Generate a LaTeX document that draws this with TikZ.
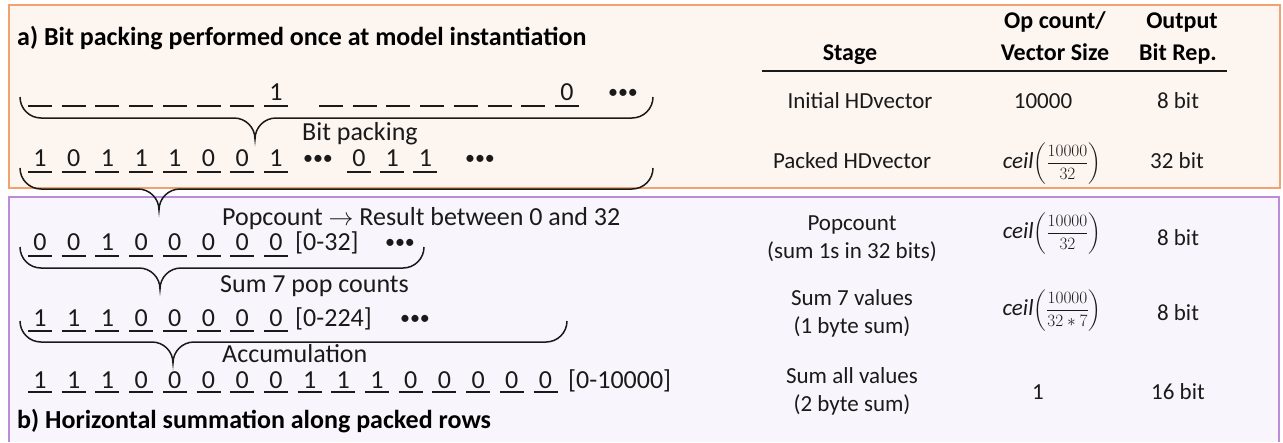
\documentclass[tikz,border=0pt]{standalone}
\usepackage{amsmath}
\usepackage{fontspec}
\setmainfont{Carlito}

\definecolor{packedge}{HTML}{F3A16E}
\definecolor{packfill}{HTML}{FDF5F0}
\definecolor{sumedge}{HTML}{BC8CDA}
\definecolor{sumfill}{HTML}{F8F6FC}
\definecolor{ink}{HTML}{1A1A1A}

\newcommand\bitfont{\fontsize{26}{30}\selectfont}
\newcommand\dotfont{\fontsize{20}{24}\selectfont}
\newcommand\tabfont{\fontsize{23}{27}\selectfont}
\newcommand\headfont{\fontsize{24}{28}\selectfont}
\newcommand\fracfont{\fontsize{17.28}{20}\selectfont}

% brace opening upwards: name of tip, left x, right x, tip x, level y
\newcommand\bitbrace[5]{%
  \draw[bracepath] (#2,#5-21) .. controls (#2,#5-9.4) and (#2+9.4,#5) .. (#2+21,#5)
    -- (#4-21,#5) .. controls (#4-9.4,#5) and (#4,#5+9.4) .. (#4,#5+21) coordinate (#1)
    .. controls (#4,#5+9.4) and (#4+9.4,#5) .. (#4+21,#5)
    -- (#3-21,#5) .. controls (#3-9.4,#5) and (#3,#5-9.4) .. (#3,#5-21);}

% one underlined bit slot: name, left x, underline y, digit, gap above the line
\newcommand\bitcell[5]{%
  \draw[bitline] (#2,#3) -- (#2+24,#3);
  \node[bitdigit] (#1) at (#2+12,#3-#5) {#4};}

\tikzset{
  bracepath/.style={draw=ink, line width=1.5pt},
  bitline/.style={draw=ink, line width=1.2pt},
  bitdigit/.style={anchor=base, inner sep=0pt, text=ink, font=\bitfont},
  bitdots/.style={anchor=base, inner sep=0pt, text=ink, font=\dotfont},
  rowlabel/.style={anchor=base west, inner sep=0pt, text=ink, font=\bitfont},
  paneltitle/.style={anchor=base west, inner sep=0pt, text=black, font=\bitfont\bfseries},
  tabcell/.style={anchor=base, inner sep=0pt, text=ink, font=\tabfont},
  tabhead/.style={anchor=base, inner sep=0pt, text=black, font=\headfont\bfseries},
}

\begin{document}
\begin{tikzpicture}[x=1pt, y=-1pt]
\useasboundingbox (0,0) rectangle (1283,442);

% panels
\fill[packfill] (9,5) rectangle (1280,188);
\draw[packedge, line width=2.6pt] (9,5) rectangle (1280,188);
\fill[sumfill] (9,197) rectangle (1279,442);
\draw[sumedge, line width=2.6pt] (9,442) -- (9,197) -- (1279,197) -- (1279,442);

% panel titles
\node[paneltitle] (ta) at (17,45) {a) Bit packing performed once at model instantiation};
\node[paneltitle] (tb) at (17,428) {b) Horizontal summation along packed rows};

% row 1: initial vector (one bit per byte)
\foreach \k in {0,...,6} { \bitcell{ia\k}{28+33.7*\k}{106}{}{6} }
\bitcell{ia7}{28+33.7*7}{106}{1}{6}
\foreach \k in {0,...,6} { \bitcell{ib\k}{319+33.7*\k}{106}{}{6} }
\bitcell{ib7}{319+33.7*7}{106}{0}{6}
\node[bitdots] (idots) at (623,98) {•••};
\bitbrace{tipA}{20}{653}{255}{118}
\node[rowlabel] (lpack) at (302,140) {Bit packing};

% row 2: packed vector
\foreach \d [count=\k from 0] in {1,0,1,1,1,0,0,1} { \bitcell{pa\k}{28+33.7*\k}{172}{\d}{6} }
\node[bitdots] (pdotsA) at (318,164) {•••};
\foreach \d [count=\k from 0] in {0,1,1} { \bitcell{pb\k}{347+33.2*\k}{172}{\d}{6} }
\node[bitdots] (pdotsB) at (480,164) {•••};
\bitbrace{tipB}{20}{653}{159}{189}
\node[rowlabel] (lpop) at (222,225) {Popcount $\rightarrow$ Result between 0 and 32};

% row 3: popcount results
\foreach \d [count=\k from 0] in {0,0,1,0,0,0,0,0} { \bitcell{ca\k}{28+33.7*\k}{256}{\d}{6} }
\node[rowlabel] (crange) at (295,250) {[0-32]};
\node[bitdots] (cdots) at (400,248) {•••};
\bitbrace{tipC}{20}{424}{160}{268}
\node[rowlabel] (lsum) at (220,292) {Sum 7 pop counts};

% row 4: sums of seven counts
\foreach \d [count=\k from 0] in {1,1,1,0,0,0,0,0} { \bitcell{sa\k}{28+33.7*\k}{331}{\d}{5} }
\node[rowlabel] (srange) at (295,326) {[0-224]};
\node[bitdots] (sdots) at (415,324) {•••};
\bitbrace{tipD}{20}{567}{173}{342}
\node[rowlabel] (lacc) at (222,362) {Accumulation};

% row 5: accumulated total
\foreach \d [count=\k from 0] in {1,1,1,0,0,0,0,0,1,1,1,0,0,0,0,0} { \bitcell{ta\k}{28+33.7*\k}{392}{\d}{3.5} }
\node[rowlabel] (trange) at (568,388.5) {[0-10000]};

% table header
\node[tabhead] (hstage) at (850,60) {Stage};
\node[tabhead] (hop1) at (1055,28) {Op count/};
\node[tabhead] (hop2) at (1055,60) {Vector Size};
\node[tabhead] (hout1) at (1182,28) {Output};
\node[tabhead] (hout2) at (1178,60) {Bit Rep.};
\coordinate (ruleL) at (762,71);
\coordinate (ruleR) at (1227,71);
\draw[ink, line width=1.4pt] (ruleL) -- (ruleR);

% table body
\node[tabcell] (s1) at (860,108) {Initial HDvector};
\node[tabcell] (o1) at (1043,108) {10000};
\node[tabcell] (b1) at (1178,108) {8 bit};

\node[tabcell] (s2) at (852,168) {Packed HDvector};
\node[tabcell] (o2) at (1052,168) {\itshape ceil\upshape{\fracfont$\left(\dfrac{10000}{32}\right)$}};
\node[tabcell] (b2) at (1177,168) {32 bit};

\node[tabcell] (s3a) at (852,230) {Popcount};
\node[tabcell] (s3b) at (852,258) {(sum 1s in 32 bits)};
\node[tabcell] (o3) at (1052,238) {\itshape ceil\upshape{\fracfont$\left(\dfrac{10000}{32}\right)$}};
\node[tabcell] (b3) at (1178,245) {8 bit};

\node[tabcell] (s4a) at (852,305) {Sum 7 values};
\node[tabcell] (s4b) at (852,333) {(1 byte sum)};
\node[tabcell] (o4) at (1052,315) {\itshape ceil\upshape{\fracfont$\left(\dfrac{10000}{32*7}\right)$}};
\node[tabcell] (b4) at (1178,320) {8 bit};

\node[tabcell] (s5a) at (852,383) {Sum all values};
\node[tabcell] (s5b) at (852,411) {(2 byte sum)};
\node[tabcell] (o5) at (1038,399) {1};
\node[tabcell] (b5) at (1178,399) {16 bit};
\end{tikzpicture}
\end{document}
